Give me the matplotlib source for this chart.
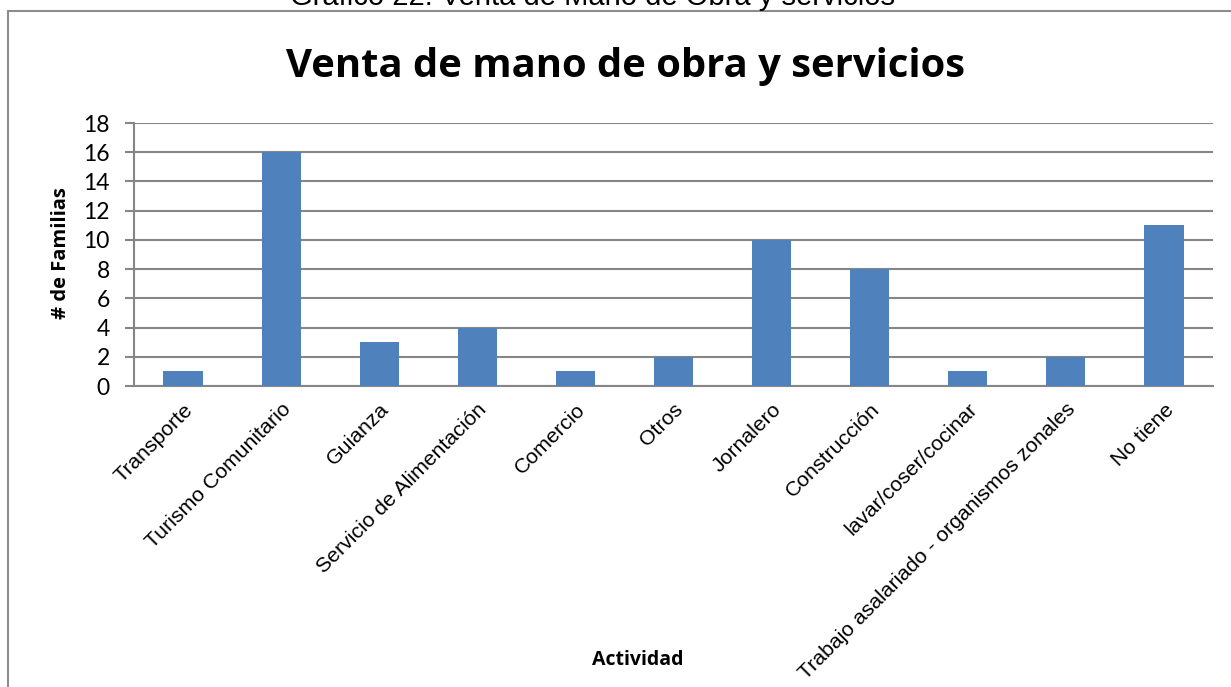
import matplotlib
matplotlib.use("Agg")
import matplotlib.pyplot as plt
from matplotlib.patches import Rectangle

categories = ["Transporte", "Turismo Comunitario", "Guianza", "Servicio de Alimentación",
              "Comercio", "Otros", "Jornalero", "Construcción", "lavar/coser/cocinar",
              "Trabajo asalariado - organismos zonales", "No tiene"]
values = [1, 16, 3, 4, 1, 2, 10, 8, 1, 2, 11]
yticks = [0, 2, 4, 6, 8, 10, 12, 14, 16, 18]

W, H = 1231, 687
fig = plt.figure(figsize=(W / 100, H / 100), dpi=100)

# outer border (cropped box: only left and top edges visible)
fig.patches.append(Rectangle((8 / W, -0.2), 1.2, 1.2 - 11 / H, transform=fig.transFigure,
                             fill=False, edgecolor="#8c8c8c", linewidth=1.5))

fig.text(593 / W, 1 - 5 / H, "Gráfico 22: Venta de Mano de Obra y servicios",
         ha="center", va="baseline", fontsize=21, family="Liberation Sans")

ax = fig.add_axes([134 / W, 1 - 386 / H, (1213 - 134) / W, (386 - 123) / H])
x = list(range(len(categories)))
ax.bar(x, values, width=0.4, color="#4F81BD", zorder=3)
ax.set_xlim(-0.5, len(categories) - 0.5)
ax.set_ylim(0, 18)
ax.set_yticks(yticks)
ax.set_yticklabels([str(t) for t in yticks], family="Lato", fontsize=16.5)
ax.yaxis.grid(True, color="#868686", linewidth=1.5, zorder=0)
ax.set_axisbelow(True)
for s in ["top", "right"]:
    ax.spines[s].set_visible(False)
ax.spines["left"].set_color("#868686")
ax.spines["bottom"].set_color("#868686")
ax.spines["left"].set_linewidth(1.5)
ax.spines["bottom"].set_linewidth(1.5)
ax.tick_params(axis="y", length=6.5, width=1.5, color="#868686", pad=11)
ax.tick_params(axis="x", length=0, pad=10)
ax.set_xticks(x)
ax.set_xticklabels(categories, rotation=45, ha="right", rotation_mode="anchor",
                   family="Liberation Sans", fontsize=15.3)

fig.text(61 / W, 1 - 253 / H, "# de Familias", ha="center", va="center", rotation=90,
         family="Open Sans", fontweight="bold", fontsize=14.5)
fig.text(638 / W, 1 - 660 / H, "Actividad", ha="center", va="center",
         family="Open Sans", fontweight="bold", fontsize=14)

fig.text(626 / W, 1 - 66 / H, "Venta de mano de obra y servicios", ha="center", va="center",
         family="Open Sans", fontweight="bold", fontsize=28.8)

fig.savefig("out.png", dpi=100)
